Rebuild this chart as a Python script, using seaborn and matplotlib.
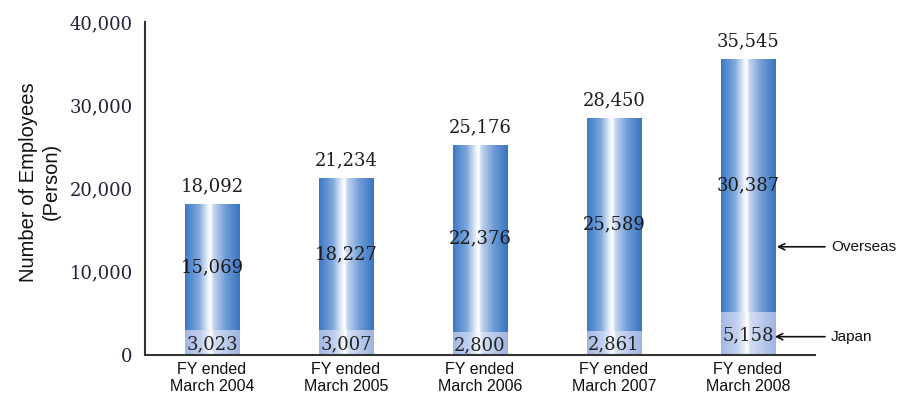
import numpy as np
import pandas as pd
import matplotlib
matplotlib.use("Agg")
import matplotlib.pyplot as plt
from matplotlib.colors import LinearSegmentedColormap
import seaborn as sns

# ---- data ----
categories = ["FY ended\nMarch 2004", "FY ended\nMarch 2005", "FY ended\nMarch 2006",
              "FY ended\nMarch 2007", "FY ended\nMarch 2008"]
japan = [3023, 3007, 2800, 2861, 5158]
overseas = [15069, 18227, 22376, 25589, 30387]
total = [18092, 21234, 25176, 28450, 35545]
yticks = [0, 10000, 20000, 30000, 40000]
ytick_labels = ["0", "10,000", "20,000", "30,000", "40,000"]

sns.set_style("white")
plt.rcParams['font.family'] = ['Liberation Sans', 'DejaVu Sans']

df = pd.DataFrame({"cat": categories, "japan": japan, "overseas": overseas, "total": total})

fig = plt.figure(figsize=(8.98, 3.98), dpi=100)
ax = fig.add_axes([145/898, 1-355/398, (815-145)/898, (355-22)/398])

BW = 0.41
sns.barplot(data=df, x="cat", y="total", color="#3f7dc9", width=BW, ax=ax, saturation=1, linewidth=0)
sns.barplot(data=df, x="cat", y="japan", color="#a9bde6", width=BW, ax=ax, saturation=1, linewidth=0)

cm_over = LinearSegmentedColormap.from_list(
    "over", [(0.0, "#3a79c6"), (0.25, "#7fa7dc"), (0.42, "#eef3fb"), (0.47, "#ffffff"),
             (0.52, "#c3d4ef"), (0.75, "#6d9ad6"), (1.0, "#3874c0")])
cm_jp = LinearSegmentedColormap.from_list(
    "jp", [(0.0, "#a2b7e3"), (0.3, "#c4d2ef"), (0.44, "#eef2fa"), (0.48, "#ffffff"),
           (0.53, "#d6e0f4"), (0.8, "#b3c5ea"), (1.0, "#9fb4e2")])
grad = np.linspace(0, 1, 256).reshape(1, -1)

patches = list(ax.patches)
for i, p in enumerate(patches):
    cmap = cm_over if i < 5 else cm_jp
    x0, y0 = p.get_x(), p.get_y()
    w, h = p.get_width(), p.get_height()
    im = ax.imshow(grad, cmap=cmap, aspect="auto", extent=(x0, x0 + w, y0, y0 + h),
                   zorder=p.get_zorder() + 0.1 + (1 if i >= 5 else 0), interpolation="bilinear")
    im.set_clip_path(p)

ax.set_xlim(-0.5, 4.5)
ax.set_ylim(0, 40000)

serif = ['DejaVu Serif']
for i in range(5):
    ax.text(i, total[i] + 1100, f"{total[i]:,}", ha="center", va="bottom",
            fontsize=13, family=serif, color="#231c18", zorder=10)
    ax.text(i, japan[i] + overseas[i] / 2, f"{overseas[i]:,}", ha="center", va="center",
            fontsize=13, family=serif, color="#1c1c1c", zorder=10)
    ax.text(i, japan[i] / 2 - 200, f"{japan[i]:,}", ha="center", va="center",
            fontsize=13, family=serif, color="#242424", zorder=10)

# axes styling
sns.despine(ax=ax, top=True, right=True)
for s in ["left", "bottom"]:
    ax.spines[s].set_color("#333333")
    ax.spines[s].set_linewidth(1.5)

ax.set_yticks(yticks)
ax.set_yticklabels(ytick_labels, family=serif, fontsize=13, color="#22223a")
ax.tick_params(axis="y", direction="in", length=7, width=1.3, color="#333333", pad=9)

ax.set_xticks(range(5))
ax.set_xticklabels(categories, fontsize=11.5, color="#111111", linespacing=1.15)
ax.tick_params(axis="x", which="major", length=0, pad=5)
ax.set_xticks([0.5, 1.5, 2.5, 3.5, 4.5], minor=True)
ax.tick_params(axis="x", which="minor", direction="in", length=6, width=1.3, color="#333333")

ax.set_xlabel("")
ax.set_ylabel("Number of Employees\n(Person)", fontsize=14.5, color="#111111", linespacing=1.25)
ax.yaxis.set_label_coords(-0.125, 0.52)

# annotations
ax.annotate("Overseas", xy=(4.215, 13000), xytext=(4.62, 13000), ha="left", va="center",
            fontsize=11, color="#111111", annotation_clip=False,
            arrowprops=dict(arrowstyle="->", color="#111111", lw=1.2, shrinkA=2, shrinkB=0))
ax.annotate("Japan", xy=(4.2, 2200), xytext=(4.62, 2200), ha="left", va="center",
            fontsize=11, color="#111111", annotation_clip=False,
            arrowprops=dict(arrowstyle="->", color="#111111", lw=1.2, shrinkA=2, shrinkB=0))

fig.savefig("out.png", dpi=100)
